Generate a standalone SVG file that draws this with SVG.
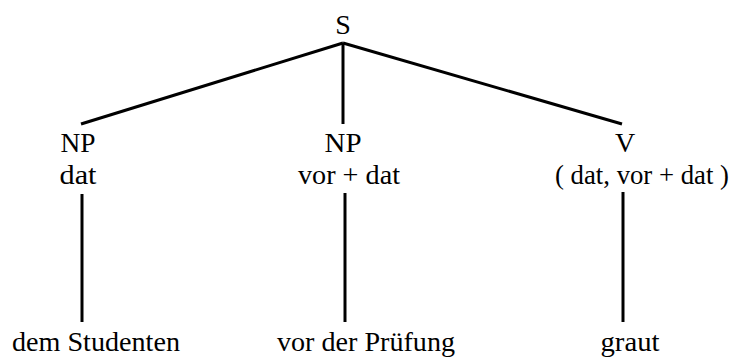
<svg xmlns="http://www.w3.org/2000/svg" width="736" height="358" viewBox="0 0 736 358">
<style>
  text { font-family: 'Liberation Serif', 'Times New Roman', serif; font-size: 28px; fill: #000; }
  .e { stroke: #000; stroke-width: 3; fill: none; stroke-linecap: butt; }
</style>
<rect width="736" height="358" fill="#fff"/>
<g id="connectors">
  <path class="e" d="M343,43 L81,124"/>
  <path class="e" d="M343,43 L343,124"/>
  <path class="e" d="M343,43 L622,124"/>
  <path class="e" d="M82,194 L82,322"/>
  <path class="e" d="M345,193 L345,322"/>
  <path class="e" d="M623,192 L623,322"/>
</g>
<g id="node-S"><text x="343" y="34" text-anchor="middle">S</text></g>
<g id="node-NP-dat">
  <text x="78" y="152" text-anchor="middle" textLength="35" lengthAdjust="spacingAndGlyphs">NP</text>
  <text x="78" y="184" text-anchor="middle" textLength="37" lengthAdjust="spacingAndGlyphs">dat</text>
</g>
<g id="node-NP-vor-dat">
  <text x="343" y="152" text-anchor="middle" textLength="37" lengthAdjust="spacingAndGlyphs">NP</text>
  <text x="349" y="184" text-anchor="middle" textLength="102" lengthAdjust="spacingAndGlyphs">vor + dat</text>
</g>
<g id="node-V">
  <text x="625" y="152" text-anchor="middle">V</text>
  <text x="642" y="184" text-anchor="middle" textLength="174" lengthAdjust="spacingAndGlyphs">( dat, vor + dat )</text>
</g>
<g id="leaf-dem-Studenten"><text x="96" y="351" text-anchor="middle" textLength="168" lengthAdjust="spacingAndGlyphs">dem Studenten</text></g>
<g id="leaf-vor-der-Pruefung"><text x="366" y="351" text-anchor="middle" textLength="178" lengthAdjust="spacingAndGlyphs">vor der Prüfung</text></g>
<g id="leaf-graut"><text x="630" y="351" text-anchor="middle" textLength="59" lengthAdjust="spacingAndGlyphs">graut</text></g>
</svg>
